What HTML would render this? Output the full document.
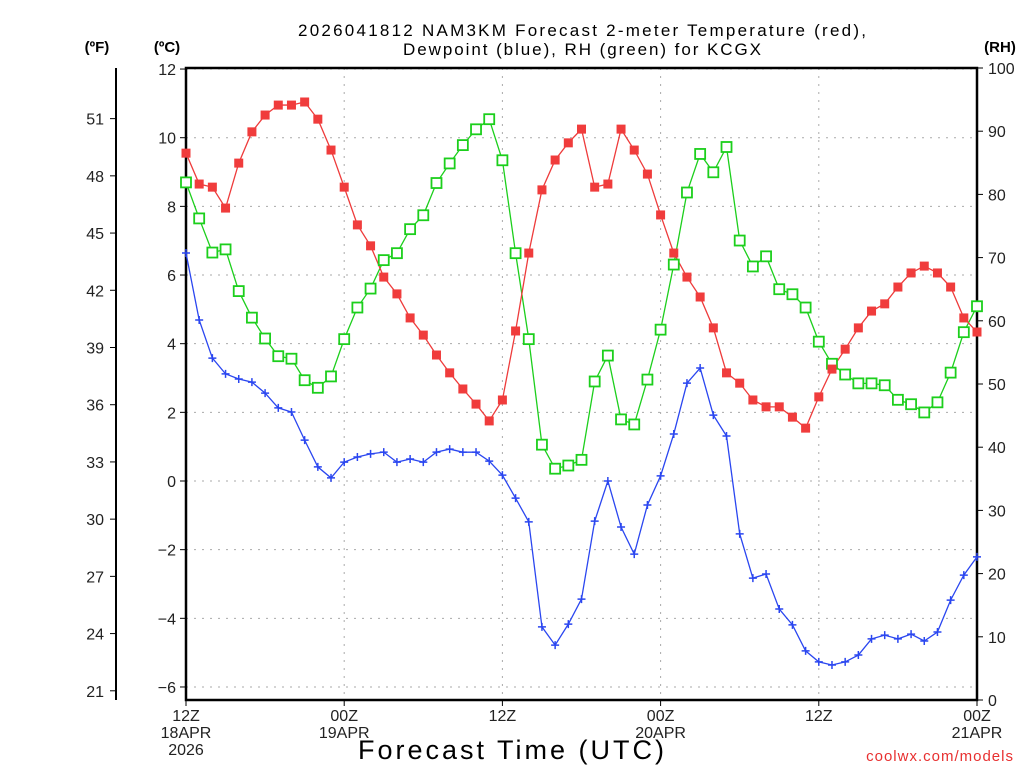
<!DOCTYPE html>
<html><head><meta charset="utf-8"><style>
html,body{margin:0;padding:0;background:#fff;width:1024px;height:768px;overflow:hidden}
svg{display:block;font-family:"Liberation Sans","DejaVu Sans",sans-serif}
</style></head><body>
<svg id="chart" width="1024" height="768" viewBox="0 0 1024 768" xmlns="http://www.w3.org/2000/svg">
<rect width="1024" height="768" fill="#fff"/>
<text x="298" y="36" font-size="17" textLength="568" lengthAdjust="spacing">2026041812 NAM3KM Forecast 2-meter Temperature (red),</text>
<text x="403" y="55" font-size="17" textLength="358" lengthAdjust="spacing">Dewpoint (blue), RH (green) for KCGX</text>
<text x="97" y="52" text-anchor="middle" font-size="15" font-weight="bold">(ºF)</text>
<text x="167" y="52" text-anchor="middle" font-size="15" font-weight="bold">(ºC)</text>
<text x="1000" y="52" text-anchor="middle" font-size="15" font-weight="bold">(RH)</text>
<text x="358" y="759" font-size="27" textLength="306" lengthAdjust="spacing">Forecast Time (UTC)</text>
<text x="1014" y="761" text-anchor="end" font-size="15" fill="#e83030" letter-spacing="1">coolwx.com/models</text>
<g id="grid"></g><g id="axes"></g><g id="series"></g>
</svg>
<script>
const hours = Array.from({length:61},(_,i)=>i);
const tempC = [9.55,8.65,8.56,7.95,9.26,10.17,10.66,10.95,10.95,11.04,10.54,9.64,8.56,7.46,6.85,5.94,5.45,4.75,4.25,3.67,3.15,2.68,2.24,1.75,2.36,4.37,6.64,8.48,9.35,9.85,10.25,8.56,8.65,10.25,9.64,8.94,7.75,6.64,5.94,5.36,4.46,3.15,2.85,2.36,2.16,2.16,1.86,1.54,2.45,3.26,3.84,4.46,4.95,5.16,5.65,6.06,6.26,6.06,5.65,4.75,4.34];
const dewC = [6.64,4.69,3.58,3.12,2.97,2.88,2.56,2.13,2.01,1.19,0.41,0.09,0.55,0.70,0.79,0.84,0.55,0.64,0.55,0.84,0.93,0.84,0.84,0.58,0.17,-0.50,-1.19,-4.25,-4.78,-4.17,-3.44,-1.17,0.0,-1.34,-2.13,-0.70,0.15,1.37,2.85,3.29,1.92,1.31,-1.54,-2.83,-2.71,-3.73,-4.19,-4.95,-5.27,-5.36,-5.27,-5.07,-4.60,-4.49,-4.60,-4.46,-4.66,-4.40,-3.47,-2.74,-2.21];
const rh = [81.9,76.2,70.8,71.3,64.7,60.5,57.2,54.4,54.0,50.6,49.4,51.2,57.1,62.1,65.1,69.6,70.7,74.5,76.7,81.8,84.9,87.8,90.3,91.9,85.4,70.7,57.1,40.4,36.6,37.1,38.0,50.4,54.5,44.4,43.6,50.7,58.6,68.9,80.3,86.4,83.5,87.5,72.7,68.6,70.2,65.0,64.2,62.1,56.7,53.2,51.5,50.1,50.1,49.8,47.5,46.8,45.5,47.1,51.8,58.2,62.3];
const cTicks = [12,10,8,6,4,2,0,-2,-4,-6];
const fTicks = [51,48,45,42,39,36,33,30,27,24,21];
const rhTicks = [100,90,80,70,60,50,40,30,20,10,0];
const timeTicks = [0,12,24,36,48,60];
const timeLabels = [["12Z","18APR","2026"],["00Z","19APR"],["12Z"],["00Z","20APR"],["12Z"],["00Z","21APR"]];

const L=186,R=977,T=68,B=700;
const x = h => L + h*(R-L)/60;
const yC = c => 481 - c*34.33;
const yF = f => yC((f-32)/1.8);
const yR = r => B - r*(B-T)/100;
const NS="http://www.w3.org/2000/svg";
function mk(tag,attrs,parent){const e=document.createElementNS(NS,tag);for(const k in attrs)e.setAttribute(k,attrs[k]);parent.appendChild(e);return e;}
const grid=document.getElementById('grid'),axes=document.getElementById('axes'),ser=document.getElementById('series');

cTicks.forEach(c=>{
  const g=mk('line',{x1:L,x2:R,y1:yC(c),y2:yC(c),stroke:'#aaa','stroke-dasharray':'2,6'},grid);
  
  
  mk('line',{x1:L-6,x2:L,y1:yC(c),y2:yC(c),stroke:'#000'},axes);
  const t=mk('text',{x:L-10,y:yC(c)+6,'text-anchor':'end','font-size':'16',fill:'#222'},axes);
  t.textContent=(c<0?'\u2212'+(-c):c);
  
  
});
timeTicks.forEach((h,i)=>{
  if(h>0&&h<60){const g=mk('line',{x1:x(h),x2:x(h),y1:T,y2:B,stroke:'#aaa','stroke-dasharray':'2,6'},grid);
  
  }
  mk('line',{x1:x(h),x2:x(h),y1:B,y2:B+6,stroke:'#000'},axes);
  timeLabels[i].forEach((s,j)=>{
    const t=mk('text',{x:x(h),y:B+21+j*17,'text-anchor':'middle','font-size':'16',fill:'#222'},axes);
    t.textContent=s;
    
    
  });
});
mk('line',{x1:116,x2:116,y1:T,y2:B,stroke:'#000','stroke-width':2},axes);
fTicks.forEach(f=>{
  mk('line',{x1:110,x2:116,y1:yF(f),y2:yF(f),stroke:'#000'},axes);
  const t=mk('text',{x:104,y:yF(f)+6,'text-anchor':'end','font-size':'16',fill:'#222'},axes);
  t.textContent=f;
  
  
});
rhTicks.forEach(r=>{
  mk('line',{x1:R,x2:R+6,y1:yR(r),y2:yR(r),stroke:'#000'},axes);
  const t=mk('text',{x:R+11,y:yR(r)+6,'font-size':'16',fill:'#222'},axes);
  t.textContent=r;
  
  
});
const fr=mk('rect',{x:L,y:T,width:R-L,height:B-T,fill:'none',stroke:'#000','stroke-width':2.5},axes);



function line(vals,yf,color,name){
  const p=mk('polyline',{points:vals.map((v,i)=>x(hours[i])+','+yf(v)).join(' '),fill:'none',stroke:color,'stroke-width':1.3},ser);
  
  
}
line(rh,yR,'#1ccf1c','rh-line');
line(tempC,yC,'#ee3b3b','temperature-line');
line(dewC,yC,'#2a46f0','dewpoint-line');
rh.forEach((v,i)=>{
  const m=mk('rect',{x:x(hours[i])-5,y:yR(v)-5,width:10,height:10,fill:'#fff',stroke:'#1ccf1c','stroke-width':1.8},ser);
  
  
});
tempC.forEach((v,i)=>{
  const m=mk('rect',{x:x(hours[i])-4.5,y:yC(v)-4.5,width:9,height:9,fill:'#f03c3c'},ser);
  
  
});
dewC.forEach((v,i)=>{
  const cx=x(hours[i]),cy=yC(v);
  const m=mk('path',{d:`M${cx-4},${cy}H${cx+4}M${cx},${cy-4}V${cy+4}`,stroke:'#2a46f0','stroke-width':1.5},ser);
  
  
});
</script>
</body></html>
